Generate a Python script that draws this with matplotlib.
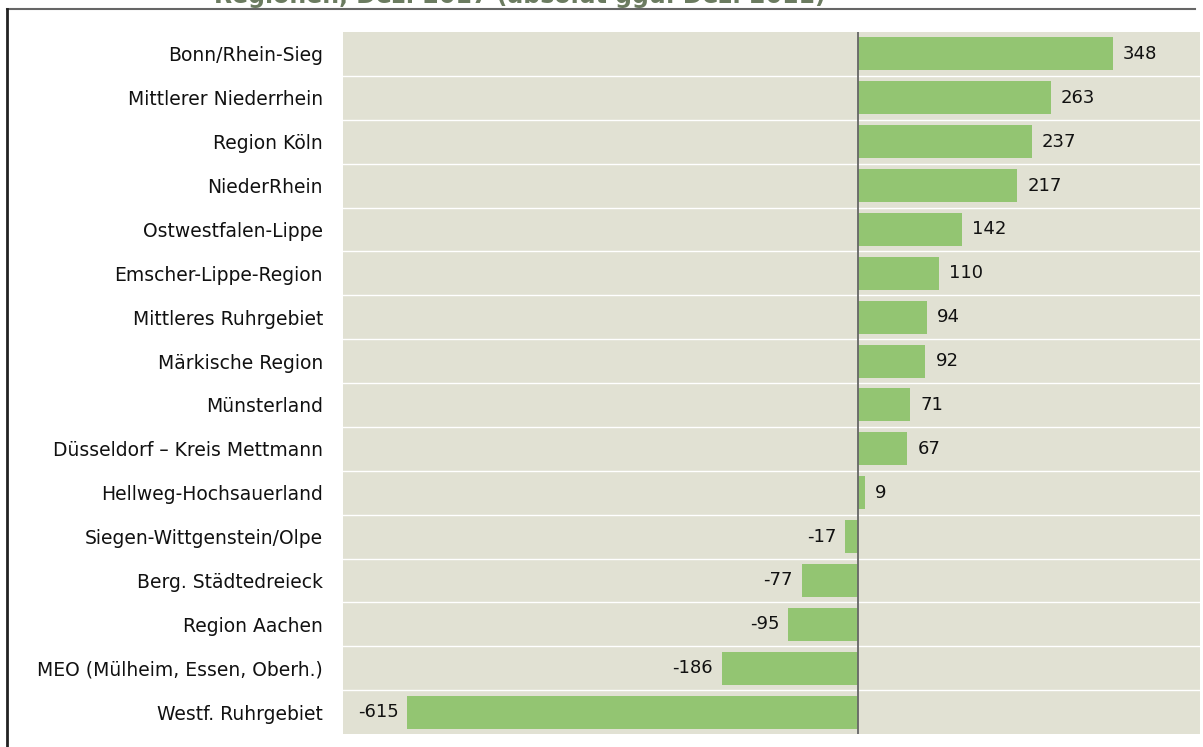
import matplotlib
matplotlib.use("Agg")
import matplotlib.pyplot as plt
from matplotlib.lines import Line2D

regions = [
    "Bonn/Rhein-Sieg",
    "Mittlerer Niederrhein",
    "Region Köln",
    "NiederRhein",
    "Ostwestfalen-Lippe",
    "Emscher-Lippe-Region",
    "Mittleres Ruhrgebiet",
    "Märkische Region",
    "Münsterland",
    "Düsseldorf – Kreis Mettmann",
    "Hellweg-Hochsauerland",
    "Siegen-Wittgenstein/Olpe",
    "Berg. Städtedreieck",
    "Region Aachen",
    "MEO (Mülheim, Essen, Oberh.)",
    "Westf. Ruhrgebiet",
]
values = [348, 263, 237, 217, 142, 110, 94, 92, 71, 67, 9, -17, -77, -95, -186, -615]
title = "Regionen, Dez. 2017 (absolut ggü. Dez. 2011)"

bar_color = "#93C572"
bg_color = "#E1E1D3"

plt.rcParams["font.family"] = ["DejaVu Sans"]

fig = plt.figure(figsize=(12.03, 7.47), dpi=100)
ax = fig.add_axes([343 / 1203, 1 - 734 / 747, (1200 - 343) / 1203, (734 - 32) / 747])
ax.set_facecolor(bg_color)

n = len(regions)
ypos = list(range(n))
ax.barh(ypos, values, height=0.75, color=bar_color, zorder=2)
ax.set_ylim(n - 0.5, -0.5)
ax.set_xlim(-703, 467)

# white separators between rows
for i in range(1, n):
    ax.axhline(i - 0.5, color="white", linewidth=1.0, zorder=1)

ax.axvline(0, color="#666666", linewidth=1.3, zorder=3)

for y, v in zip(ypos, values):
    if v >= 0:
        ax.text(v + 14, y, str(v), va="center", ha="left", fontsize=13, color="#111111")
    else:
        ax.text(v - 12, y, str(v), va="center", ha="right", fontsize=13, color="#111111")

ax.set_yticks(ypos)
ax.set_yticklabels(regions, fontsize=13.5, color="#111111")
ax.tick_params(axis="y", length=0, pad=14.4)
ax.set_xticks([])
for s in ax.spines.values():
    s.set_visible(False)

# frame lines and clipped title (cut off at the top like the source)
fig.add_artist(Line2D([7 / 1203, 1195 / 1203], [1 - 9 / 747, 1 - 9 / 747],
                      transform=fig.transFigure, color="#666666", linewidth=1.5))
fig.add_artist(Line2D([7 / 1203, 7 / 1203], [0, 1 - 9 / 747],
                      transform=fig.transFigure, color="#222222", linewidth=2))
fig.text(520 / 1203, 1 - 3 / 747, title, ha="center", va="baseline",
         fontsize=17, fontweight="bold", color="#6B7B60")

fig.savefig("out.png", dpi=100)
